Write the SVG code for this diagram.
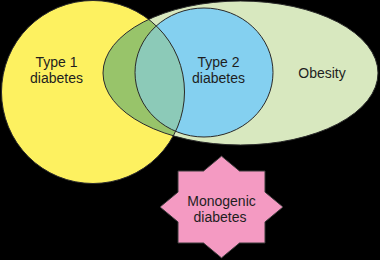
<svg xmlns="http://www.w3.org/2000/svg" width="380" height="260" viewBox="0 0 380 260">
  <style>
    .outline { fill: none; stroke: #2a2a2a; stroke-width: 1; }
    .label { font-family: "Liberation Sans", Arial, sans-serif; font-size: 14px; fill: #1e1e1e; text-anchor: middle; }
  </style>
  <defs>
    <clipPath id="clipYellow">
      <circle cx="93" cy="92" r="91.5"/>
    </clipPath>
  </defs>
  <rect x="0" y="0" width="380" height="260" fill="#000000"/>
  <g id="type1">
    <circle cx="93" cy="92" r="91.5" fill="#fdf160"/>
  </g>
  <g id="obesity">
    <ellipse cx="240.5" cy="73" rx="137.5" ry="72" fill="#d8e8bf"/>
  </g>
  <g id="type2">
    <ellipse cx="204" cy="72.5" rx="69" ry="64.5" fill="#84d0f0"/>
  </g>
  <g id="overlaps">
    <ellipse cx="240.5" cy="73" rx="137.5" ry="72" fill="#98c46a" clip-path="url(#clipYellow)"/>
    <ellipse cx="204" cy="72.5" rx="69" ry="64.5" fill="#8ccab8" clip-path="url(#clipYellow)"/>
  </g>
  <g id="outlines">
    <circle class="outline" cx="93" cy="92" r="91.5"/>
    <ellipse class="outline" cx="240.5" cy="73" rx="137.5" ry="72"/>
    <ellipse class="outline" cx="204" cy="72.5" rx="69" ry="64.5"/>
  </g>
  <g id="monogenic">
    <polygon points="221.5,156.1 239.5,171 265,171 265,192.1 283,207 265,221.9 265,243 239.5,243 221.5,257.9 203.5,243 178,243 178,221.9 160,207 178,192.1 178,171 203.5,171" fill="#f49ac2" stroke="#3a3a3a" stroke-width="1"/>
  </g>
  <g id="labels">
    <text class="label" x="56.5" y="66.5">Type 1</text>
    <text class="label" x="56.5" y="82.5">diabetes</text>
    <text class="label" x="218.5" y="66.5">Type 2</text>
    <text class="label" x="218.5" y="82.5">diabetes</text>
    <text class="label" x="322" y="77.5">Obesity</text>
    <text class="label" x="221.5" y="205.5">Monogenic</text>
    <text class="label" x="220" y="222">diabetes</text>
  </g>
</svg>
